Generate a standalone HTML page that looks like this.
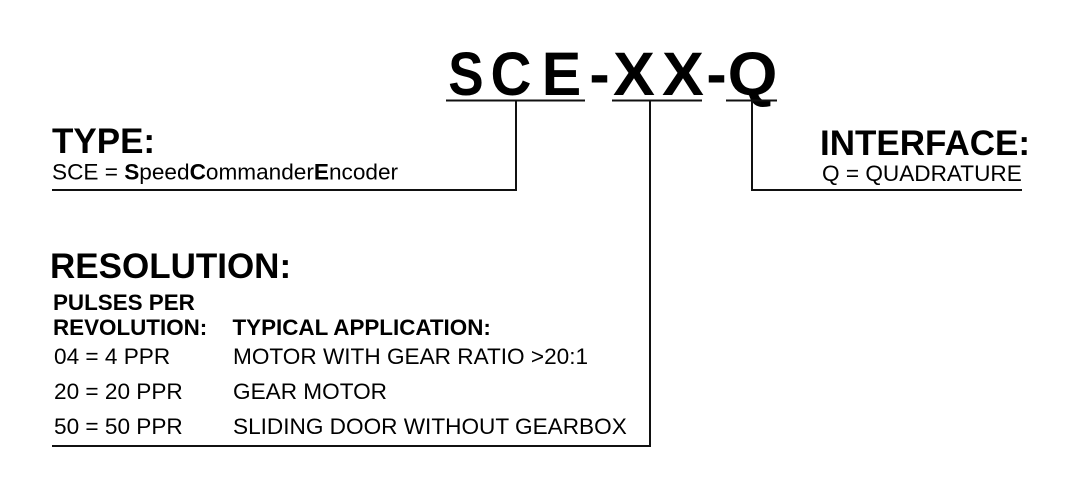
<!DOCTYPE html>
<html><head><meta charset="utf-8"><style>
html,body{margin:0;padding:0;background:#fff;}
svg{display:block;}
text{font-family:"Liberation Sans",Arial,sans-serif;fill:#000;}
.b{font-weight:bold;}
.t{font-weight:bold;font-size:61px;text-anchor:middle;}
</style></head><body>
<svg width="1079" height="497" viewBox="0 0 1079 497" xmlns="http://www.w3.org/2000/svg">
<rect width="1079" height="497" fill="#fff"/>
<g>
<text class="t" transform="translate(466,95) scale(0.87,1)">S</text>
<text class="t" transform="translate(511,95) scale(0.93,1)">C</text>
<text class="t" transform="translate(561.5,95) scale(0.97,1)">E</text>
<text class="t" transform="translate(599.5,95)">-</text>
<text class="t" transform="translate(634,95) scale(1.03,1)">X</text>
<text class="t" transform="translate(683,95) scale(1.03,1)">X</text>
<text class="t" transform="translate(716.5,95)">-</text>
<text class="t" transform="translate(752.5,95) scale(1.05,1)">Q</text>
</g>
<g stroke="#111" stroke-width="2" fill="none">
<line x1="446" y1="100.5" x2="585" y2="100.5"/>
<line x1="612" y1="100.5" x2="702" y2="100.5"/>
<line x1="726" y1="100.5" x2="777" y2="100.5"/>
<polyline points="516,100 516,190 52,190"/>
<polyline points="650,100 650,446 52,446"/>
<polyline points="752,100 752,190 1022,190"/>
</g>
<text class="b" font-size="35" x="52" y="153">TYPE:</text>
<text font-size="22.6" x="52" y="179.5">SCE = <tspan class="b">S</tspan>peed<tspan class="b">C</tspan>ommander<tspan class="b">E</tspan>ncoder</text>
<text class="b" font-size="35" x="820" y="155">INTERFACE:</text>
<text font-size="22.6" x="822" y="181">Q = QUADRATURE</text>
<text class="b" font-size="35" x="50" y="278">RESOLUTION:</text>
<text class="b" font-size="22.4" x="53" y="310">PULSES PER</text>
<text class="b" font-size="22.4" x="53" y="335">REVOLUTION:</text>
<text class="b" font-size="22.4" x="232.5" y="335">TYPICAL APPLICATION:</text>
<text font-size="22.6" x="54" y="364">04 = 4 PPR</text>
<text font-size="22.6" x="233" y="364">MOTOR WITH GEAR RATIO &gt;20:1</text>
<text font-size="22.6" x="54" y="399">20 = 20 PPR</text>
<text font-size="22.6" x="233" y="399">GEAR MOTOR</text>
<text font-size="22.6" x="54" y="434">50 = 50 PPR</text>
<text font-size="22.6" x="233" y="434">SLIDING DOOR WITHOUT GEARBOX</text>
</svg>
</body></html>
